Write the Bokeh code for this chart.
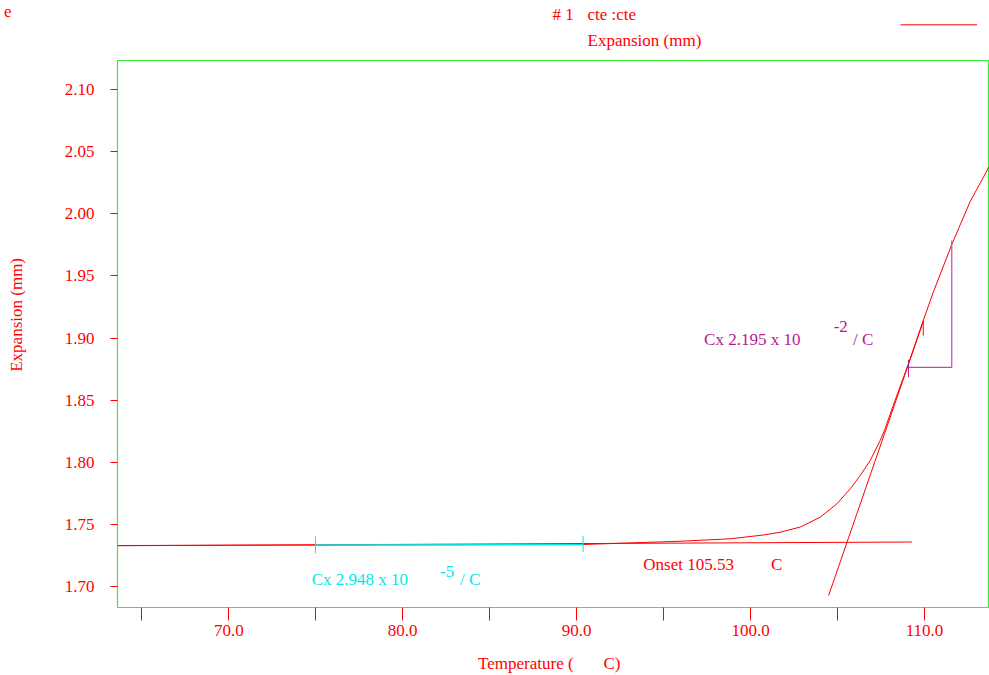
from bokeh.plotting import figure
from bokeh.layouts import column
from bokeh.models import Label, FixedTicker, Range1d
from bokeh.core.properties import value
from bokeh.embed import file_html
from bokeh.resources import INLINE

# ---- data ----
temp = [63.603, 74.983, 82.741, 90.328, 95.960, 98.833, 100.730, 101.707, 102.856,
        104.006, 104.966, 105.730, 106.305, 106.879, 107.454, 107.741, 108.201,
        109.063, 109.868, 110.500, 111.592, 112.626, 113.718]
expansion = [1.73300, 1.73340, 1.73356, 1.73381, 1.73646, 1.73839, 1.74145, 1.74371, 1.74789,
             1.75578, 1.76656, 1.77864, 1.78934, 1.80142, 1.81751, 1.82717, 1.84569,
             1.87869, 1.91169, 1.93664, 1.97608, 2.00988, 2.03805]

baseline_t = [63.603, 109.276]
baseline_e = [1.73284, 1.73582]

fit_t = [74.983, 90.37]
fit_e = [1.73356, 1.73370]

tangent_t = [104.49, 109.93]
tangent_e = [1.69276, 1.91330]

tri_t = [109.08, 111.57, 111.57]
tri_e = [1.8765, 1.8765, 1.9785]

onset_value = "105.53"
cte_low = "2.948"
cte_high = "2.195"
series_name = "cte :cte"
series_id = "# 1"
y_title = "Expansion (mm)"

x_ticks = [65, 70, 75, 80, 85, 90, 95, 100, 105, 110]
x_labels = {65: "", 70: "70.0", 75: "", 80: "80.0", 85: "", 90: "90.0", 95: "", 100: "100.0", 105: "", 110: "110.0"}
y_ticks = [1.70, 1.75, 1.80, 1.85, 1.90, 1.95, 2.00, 2.05, 2.10]

RED = "#ff0000"
GREEN = "#33ee33"
CYAN = "#00e8e8"
MAG = "#b8188f"
MAGL = "#c548a8"
FONT = "Liberation Serif"
FS = "17px"
NB = "\u00a0"

W = 989
LEFT = 117
HEAD_H = 59
MAIN_H = 616

# ---------------- header strip (its frame is aligned with the main frame) ----------------
h = figure(width=W, height=HEAD_H, output_backend="svg", toolbar_location=None,
           x_range=Range1d(LEFT, W), y_range=Range1d(HEAD_H, 0),
           x_axis_type=None, min_border=0, min_border_left=LEFT)
h.outline_line_color = None
h.grid.visible = False
h.background_fill_color = "white"
h.border_fill_color = "white"
hy = h.yaxis[0]
hy.ticker = FixedTicker(ticks=[])
hy.axis_line_color = None
hy.major_tick_out = 0
hy.major_tick_in = 0
hy.minor_tick_line_color = None
hy.major_label_standoff = 0
hy.axis_label = "e\n\n"
hy.axis_label_orientation = "horizontal"
hy.axis_label_standoff = 106
hy.axis_label_text_color = RED
hy.axis_label_text_font = FONT
hy.axis_label_text_font_size = FS
hy.axis_label_text_font_style = "normal"
hy.axis_label_text_line_height = 1.0

h.text(x=[552, 587, 587], y=[14, 14, 40],
       text=[series_id, series_name, y_title],
       text_color=RED, text_font=value(FONT), text_font_size=FS,
       text_baseline="middle", text_align="left")
h.line([900, 976.5], [24.3, 24.3], line_color=RED, line_width=1)

# ---------------- main plot ----------------
p = figure(width=W, height=MAIN_H, output_backend="svg", toolbar_location=None,
           x_range=Range1d(63.6, 113.74), y_range=Range1d(1.6831, 2.1235),
           min_border_left=LEFT, min_border_right=0, min_border_top=1, min_border_bottom=68)
p.background_fill_color = "white"
p.border_fill_color = "white"
p.outline_line_color = GREEN
p.outline_line_width = 1.2
p.grid.visible = False

for ax in (p.xaxis[0], p.yaxis[0]):
    ax.axis_line_color = None
    ax.major_tick_line_color = RED
    ax.minor_tick_line_color = None
    ax.major_tick_in = 0
    ax.major_label_text_color = RED
    ax.major_label_text_font = FONT
    ax.major_label_text_font_size = FS
    ax.axis_label_text_color = RED
    ax.axis_label_text_font = FONT
    ax.axis_label_text_font_size = FS
    ax.axis_label_text_font_style = "normal"

p.xaxis[0].ticker = FixedTicker(ticks=x_ticks)
p.xaxis[0].major_label_overrides = x_labels
p.xaxis[0].major_tick_out = 13
p.xaxis[0].major_label_standoff = 4
p.xaxis[0].axis_label = "Temperature (" + NB * 7 + "C)" + NB * 2
p.xaxis[0].axis_label_standoff = 15

p.yaxis[0].ticker = FixedTicker(ticks=y_ticks)
p.yaxis[0].major_label_overrides = {v: f"{v:.2f}" for v in y_ticks}
p.yaxis[0].major_tick_out = 7
p.yaxis[0].major_label_standoff = 16
p.yaxis[0].axis_label = NB * 9 + y_title
p.yaxis[0].axis_label_standoff = 36

# curve and analysis lines
p.line(baseline_t, baseline_e, line_color=RED, line_width=1)
p.line(temp, expansion, line_color=RED, line_width=1)
p.line(fit_t, fit_e, line_color=CYAN, line_width=1.2)
p.segment(x0=[fit_t[0], fit_t[1]], y0=[fit_e[0] - 0.0068, fit_e[1] - 0.0060],
          x1=[fit_t[0], fit_t[1]], y1=[fit_e[0] + 0.0068, fit_e[1] + 0.0072],
          line_color=CYAN, line_width=1)
p.line(tangent_t, tangent_e, line_color=RED, line_width=1)
p.line(tri_t, tri_e, line_color=MAGL, line_width=1.2)
p.segment(x0=[tri_t[0], tangent_t[1]], y0=[tri_e[0] - 0.008, 1.9020],
          x1=[tri_t[0], tangent_t[1]], y1=[tri_e[0] + 0.006, 1.9141],
          line_color=[MAG, RED], line_width=1)

def dlabel(x, y, text, color):
    p.add_layout(Label(x=x, y=y, text=text, text_color=color, text_font=FONT,
                       text_font_size=FS, text_baseline="middle", text_align="left"))

dlabel(74.77, 1.7056, f"Cx {cte_low} x 10", CYAN)
dlabel(82.15, 1.7118, "-5", CYAN)
dlabel(83.30, 1.7056, "/ C", CYAN)
dlabel(93.83, 1.7177, f"Onset {onset_value}", RED)
dlabel(101.18, 1.7177, "C", RED)
dlabel(97.33, 1.8988, f"Cx {cte_high} x 10", MAG)
dlabel(104.78, 1.9090, "-2", MAG)
dlabel(105.89, 1.8988, "/ C", MAG)

layout = column(h, p, spacing=0)
open("out.html", "w").write(file_html(layout, INLINE))
